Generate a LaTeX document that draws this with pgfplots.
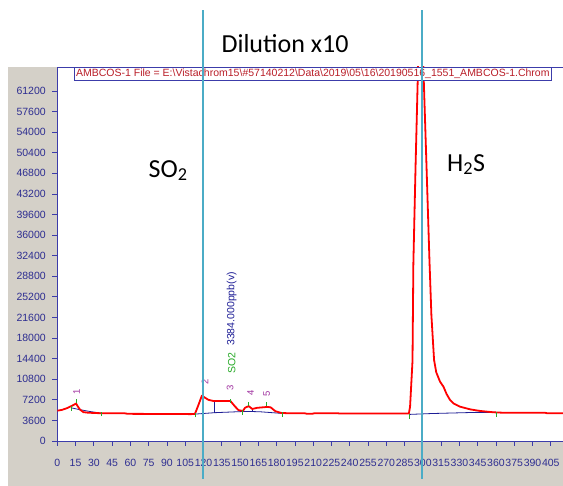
\documentclass[border=0pt]{standalone}
\usepackage{pgfplots}
\pgfplotsset{compat=1.18}
\usepackage{fontspec}
\setmainfont{Liberation Sans}
\newfontfamily\calibri{Carlito}
\definecolor{panelgray}{RGB}{212,208,200}
\definecolor{tickblue}{RGB}{45,45,145}
\definecolor{axblue}{RGB}{60,60,170}
\definecolor{cyanline}{RGB}{75,172,198}
\definecolor{titlered}{RGB}{185,30,40}
\definecolor{peakpurple}{RGB}{160,50,160}
\definecolor{basegreen}{RGB}{40,170,40}
\definecolor{baseblue}{RGB}{30,30,150}
\definecolor{curvered}{RGB}{255,0,0}
\newcommand{\gtick}[3]{\addplot[basegreen, line width=0.8pt, forget plot] coordinates {(#1,#2) (#1,#3)};}
\begin{document}
\begin{tikzpicture}
\useasboundingbox (-57.3pt,-45pt) rectangle (505.7pt,441pt);
\fill[panelgray] (-49.3pt,-45pt) rectangle (505.7pt,374pt);
\begin{axis}[
  at={(0,0)}, anchor=south west,
  scale only axis, width=505.7pt, height=374pt,
  xmin=0, xmax=415, ymin=0, ymax=65400,
  axis x line*=bottom, axis y line*=left,
  axis line style={axblue, line width=0.8pt, -},
  axis background/.style={fill=white},
  xtick={0,15,...,405}, ytick={0,3600,...,61200},
  tick align=outside, major tick length=5pt,
  tick style={axblue, line width=0.8pt},
  ticklabel style={font=\fontsize{10.5}{12}\selectfont, text=tickblue},
  xticklabel style={yshift=-10pt},
  yticklabel style={xshift=-3pt},
  /pgf/number format/assume math mode=true,
  /pgf/number format/set thousands separator={},
  scaled y ticks=false, scaled x ticks=false,
  clip mode=individual,
]
% integration baselines
\addplot[baseblue, line width=0.8pt] coordinates {(11.3,5800) (18,5500) (27,5150) (36.5,4850)};
\addplot[baseblue, line width=0.8pt] coordinates {(113,4700) (129,4950) (152,5150) (160,5150) (167,5100) (186,4800)};
\addplot[baseblue, line width=0.8pt] coordinates {(289,4650) (307,4800) (343,5000) (360,5000)};
\addplot[baseblue, line width=0.8pt] coordinates {(129,7000) (129,4950)};
\addplot[baseblue, line width=0.8pt] coordinates {(160.5,5650) (160.5,5150)};
% chromatogram
\addplot[curvered, line width=1.8pt, line join=round] coordinates {
(0,5300) (4,5450) (8,5750) (12,6150) (15.4,6550) (17,6000) (18.6,5500) (21.4,5050) (25,4950) (30,4900) (36.5,4850) (55,4850) (58,4750) (110,4700) (113,4750) (116,6400) (118.6,7900) (121,7600) (124,7200) (128,7000) (142,7000) (146,6000) (148.7,5400) (152.3,5250) (154,5800) (157,6100) (160,5600) (164,5800) (172,5950) (175,5900) (179,5200) (184,4900) (190,4850) (203,4850) (205,4750) (209,4750) (211,4850) (230,4850) (232,4800) (288.5,4800) (289.5,6000) (291.5,14000) (292.2,31000) (294,48000) (296,65000) (297,75000) (298,80000) (299.5,80000) (300.4,65400) (303,48000) (305.4,31650) (307,22000) (309.2,14160) (311,12000) (314.1,10370) (316.9,9500) (319.5,8200) (322.3,7170) (325,6590) (330.5,6000) (338.7,5540) (347,5250) (357.9,5020) (365,4950) (400,4950) (402,4850) (415,4850)};
% green peak markers
\gtick{11.3}{5300}{6120}
\gtick{15.4}{6590}{7290}
\gtick{36.5}{4370}{5120}
\gtick{113}{4140}{4840}
\gtick{142}{6700}{7340}
\gtick{152}{4550}{5420}
\gtick{157}{6120}{6870}
\gtick{171.5}{6120}{6870}
\gtick{185}{4250}{5020}
\gtick{289}{3850}{4670}
\gtick{360}{4250}{5120}
% peak numbers
\node[rotate=90, text=peakpurple, font=\fontsize{9.5}{10}\selectfont] at (axis cs:15.9,8620) {1};
\node[rotate=90, text=peakpurple, font=\fontsize{9.5}{10}\selectfont] at (axis cs:121.2,10370) {2};
\node[rotate=90, text=peakpurple, font=\fontsize{9.5}{10}\selectfont] at (axis cs:141.8,9270) {3};
\node[rotate=90, text=peakpurple, font=\fontsize{9.5}{10}\selectfont] at (axis cs:158.7,8450) {4};
\node[rotate=90, text=peakpurple, font=\fontsize{9.5}{10}\selectfont] at (axis cs:171.9,8220) {5};
\node[rotate=90, text=basegreen, font=\fontsize{10.5}{11}\selectfont] at (axis cs:143.1,13640) {SO2};
\node[rotate=90, text=baseblue, font=\fontsize{10.5}{11}\selectfont] at (axis cs:143.1,23080) {3384.000ppb(v)};
% top border and title box
\draw[axblue, line width=0.8pt] (rel axis cs:0,1) -- (rel axis cs:1,1);
\draw[axblue, line width=0.8pt, fill=white] (axis cs:14.1,63120) rectangle (axis cs:405.2,65320);
\node[text=titlered, font=\fontsize{10.5}{12}\selectfont, inner sep=0pt] at (axis cs:209.7,64150) {AMBCOS-1 File = E:\textbackslash Vistachrom15\textbackslash\#57140212\textbackslash Data\textbackslash 2019\textbackslash 05\textbackslash 16\textbackslash 20190516\_1551\_AMBCOS-1.Chrom};
% annotations
\node[font=\calibri\fontsize{26}{30}\selectfont, anchor=base] at (axis cs:90.9,46160) {SO\textsubscript{2}};
\node[font=\calibri\fontsize{26}{30}\selectfont, anchor=base] at (axis cs:335.5,47210) {H\textsubscript{2}S};
\node[font=\calibri\fontsize{26}{30}\selectfont, anchor=base] at (axis cs:186.9,68020) {Dilution x10};
% dilution markers
\draw[cyanline, line width=2pt] (axis cs:119.6,-6645) -- (axis cs:119.6,75363);
\draw[cyanline, line width=2pt] (axis cs:299.6,-6645) -- (axis cs:299.6,75363);
\end{axis}
\end{tikzpicture}
\end{document}
